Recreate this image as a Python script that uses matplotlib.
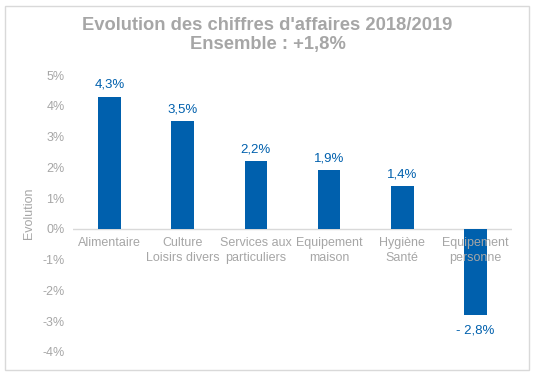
import numpy as np
import matplotlib.pyplot as plt
from matplotlib.patches import Rectangle
from matplotlib.ticker import FuncFormatter

plt.rcParams['font.family'] = ['Liberation Sans', 'DejaVu Sans']

categories = ["Alimentaire", "Culture\nLoisirs divers", "Services aux\nparticuliers",
              "Equipement\nmaison", "Hygiène\nSanté", "Equipement\npersonne"]
values = [4.3, 3.5, 2.2, 1.9, 1.4, -2.8]
value_labels = ["4,3%", "3,5%", "2,2%", "1,9%", "1,4%", "- 2,8%"]

blue = "#0060ad"
grey = "#a6a6a6"

fig = plt.figure(figsize=(5.35, 3.76), dpi=100)
fig.patches.append(Rectangle((5 / 535, 6 / 376), 524 / 535, 364 / 376,
                             transform=fig.transFigure, fill=False,
                             edgecolor="#d9d9d9", linewidth=1))
ax = fig.add_axes([73 / 535, 1 - 352 / 376, 439 / 535, 277 / 376])

x = np.arange(len(categories))
ax.bar(x, values, width=0.31, color=blue, zorder=2)
ax.set_xlim(-0.5, len(categories) - 0.5)
ax.set_ylim(-4, 5)
ax.set_yticks(range(-4, 6))
ax.yaxis.set_major_formatter(FuncFormatter(lambda v, p: f"{int(v)}%"))
ax.tick_params(axis='y', length=0, labelsize=9, labelcolor=grey, pad=6)
ax.set_xticks([])
for s in ax.spines.values():
    s.set_visible(False)
ax.axhline(0, color="#d9d9d9", linewidth=1, zorder=1)

for xi, v, lab, cat in zip(x, values, value_labels, categories):
    if v >= 0:
        ax.annotate(lab, (xi, v), xytext=(0, 4), textcoords="offset points",
                    ha="center", va="bottom", color=blue, fontsize=9.5)
    else:
        ax.annotate(lab, (xi, v), xytext=(0, -7), textcoords="offset points",
                    ha="center", va="top", color=blue, fontsize=9.5)
    ax.annotate(cat, (xi, 0), xytext=(0, -6), textcoords="offset points",
                ha="center", va="top", color=grey, fontsize=9,
                linespacing=1.3, zorder=3)

ax.set_ylabel("Evolution", color=grey, fontsize=9, labelpad=5)

fig.text(0.5, 1 - 25 / 376, "Evolution des chiffres d'affaires 2018/2019",
         ha="center", va="center", color=grey, fontsize=13.2, fontweight="bold")
fig.text(0.5, 1 - 45 / 376, "Ensemble : +1,8%",
         ha="center", va="center", color=grey, fontsize=13.2, fontweight="bold")

fig.savefig("out.png", dpi=100)
